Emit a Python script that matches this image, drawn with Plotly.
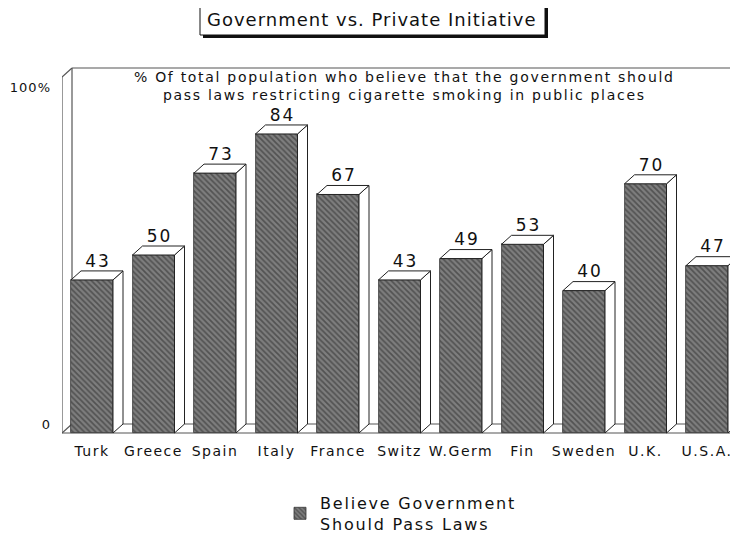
import plotly.graph_objects as go

categories = ["Turk", "Greece", "Spain", "Italy", "France", "Switz", "W.Germ", "Fin", "Sweden", "U.K.", "U.S.A."]
values = [43, 50, 73, 84, 67, 43, 49, 53, 40, 70, 47]
series_name = "Believe Government<br>Should Pass Laws"
title_text = "Government vs. Private Initiative"
subtitle_lines = ["% Of total population who believe that the government should",
                  "pass laws restricting cigarette smoking in public places"]
y_tick_text = ["0", "100%"]

FONT = "DejaVu Sans"


def spaced(t, ls):
    return '<span style="letter-spacing:%gpx">%s</span>' % (ls, t)


OFF = 8            # page body margin of the browser
W, H = 738 - OFF, 546 - OFF
ML = 62 - OFF
PW, PH = W - ML, H
PX_X = 61.5        # pixels per category
PX_Y = 3.56        # pixels per percent
BASE_PX = 433 - OFF  # figure pixel row of value 0
x0 = -30 / PX_X
x1 = x0 + PW / PX_X
y_top = BASE_PX / PX_Y
y_bot = -(H - BASE_PX) / PX_Y

bw = 42 / PX_X      # front face width
dx = 10 / PX_X      # depth offset x
dy = 9 / PX_Y       # depth offset y

idx = list(range(len(categories)))

top_x, top_y, side_x, side_y = [], [], [], []
for i, v in zip(idx, values):
    l, r = i - bw / 2, i + bw / 2
    top_x += [l, r, r + dx, l + dx, l, None]
    top_y += [v, v, v + dy, v + dy, v, None]
    side_x += [r, r, r + dx, r + dx, r, None]
    side_y += [0, v, v + dy, dy, 0, None]

fig = go.Figure()
fig.add_trace(go.Scatter(x=side_x, y=side_y, mode="lines", fill="toself",
                         fillcolor="white", line=dict(color="#222", width=1),
                         showlegend=False, hoverinfo="skip"))
fig.add_trace(go.Bar(x=idx, y=values, width=bw, name=spaced(series_name, 1.8),
                     marker=dict(color="#666",
                                 line=dict(color="#333", width=0.8),
                                 pattern=dict(shape="\\", fgcolor="#262626",
                                              bgcolor="#7e7e7e", size=4, solidity=0.45)),
                     showlegend=True))
fig.add_trace(go.Scatter(x=top_x, y=top_y, mode="lines", fill="toself",
                         fillcolor="white", line=dict(color="#222", width=1),
                         showlegend=False, hoverinfo="skip"))
fig.add_trace(go.Scatter(x=[i + dx * 0.6 for i in idx], y=[v + dy for v in values],
                         mode="text", text=[spaced(str(v), 2) for v in values],
                         textposition="top center",
                         textfont=dict(family=FONT, size=17, color="#111"),
                         showlegend=False, hoverinfo="skip"))

ix = x0 + dx
wall_top = (BASE_PX - (68 - OFF)) / PX_Y
ln = dict(color="#555", width=1.2)
shapes = [
    dict(type="line", xref="x", yref="y", x0=x0, y0=0, x1=x0, y1=wall_top - dy, line=ln, layer="below"),
    dict(type="line", xref="x", yref="y", x0=ix, y0=dy, x1=ix, y1=wall_top, line=ln, layer="below"),
    dict(type="line", xref="x", yref="y", x0=x0, y0=wall_top - dy, x1=ix, y1=wall_top, line=ln, layer="below"),
    dict(type="line", xref="x", yref="y", x0=ix, y0=wall_top, x1=x1 - 0.05, y1=wall_top, line=ln, layer="below"),
    dict(type="line", xref="x", yref="y", x0=x0, y0=0, x1=x1, y1=0, line=ln, layer="below"),
    dict(type="line", xref="x", yref="y", x0=ix, y0=dy, x1=x1, y1=dy, line=ln, layer="below"),
    dict(type="line", xref="x", yref="y", x0=x0, y0=0, x1=ix, y1=dy, line=ln, layer="below"),
]


def px2paper(px, py):
    """reference-image pixel -> paper coords"""
    return ((px - OFF) - ML) / PW, (H - (py - OFF)) / PH


sx0, sy0 = px2paper(203, 38)
sx1, sy1 = px2paper(548, 8)
bx0, by0 = px2paper(200, 35)
bx1, by1 = px2paper(545, 5)
shapes.append(dict(type="rect", xref="paper", yref="paper", x0=sx0, y0=sy0, x1=sx1, y1=sy1,
                   fillcolor="#111", line=dict(width=0), layer="above"))
shapes.append(dict(type="rect", xref="paper", yref="paper", x0=bx0, y0=by0, x1=bx1, y1=by1,
                   fillcolor="white", line=dict(color="#111", width=1), layer="above"))

tx, ty = px2paper(372, 20)
stx, sty = px2paper(404, 86)
annotations = [
    dict(text=spaced(title_text, 1), x=tx, y=ty, xref="paper", yref="paper", showarrow=False,
         xanchor="center", yanchor="middle",
         font=dict(family=FONT, size=18, color="#111")),
    dict(text="<br>".join(spaced(s, 1.7) for s in subtitle_lines), x=stx, y=sty,
         xref="paper", yref="paper", showarrow=False, xanchor="center", yanchor="middle",
         font=dict(family=FONT, size=14, color="#111"), align="center"),
]

lx, ly = px2paper(280, 486)
_, axis_pos = px2paper(0, 441)
fig.update_layout(
    width=W, height=H,
    margin=dict(l=ML, r=0, t=0, b=0, autoexpand=False),
    paper_bgcolor="white", plot_bgcolor="white",
    shapes=shapes, annotations=annotations,
    showlegend=True,
    legend=dict(x=lx, y=ly, xanchor="left", yanchor="top", orientation="h",
                font=dict(family=FONT, size=16, color="#111"), bgcolor="rgba(0,0,0,0)"),
    xaxis=dict(range=[x0, x1], tickvals=idx, ticktext=[spaced(c, 1.5) for c in categories],
               showgrid=False, zeroline=False, showline=False, ticks="",
               anchor="free", position=axis_pos, automargin=False,
               tickfont=dict(family=FONT, size=14, color="#111")),
    yaxis=dict(range=[y_bot, y_top], tickvals=[2.3, 97], ticktext=[spaced(t, 1) for t in y_tick_text],
               showgrid=False, zeroline=False, showline=False, ticks="", ticklabelstandoff=10,
               automargin=False, domain=[0, 1],
               tickfont=dict(family=FONT, size=13, color="#111")),
    bargap=0,
)
fig.write_html("out.html")
